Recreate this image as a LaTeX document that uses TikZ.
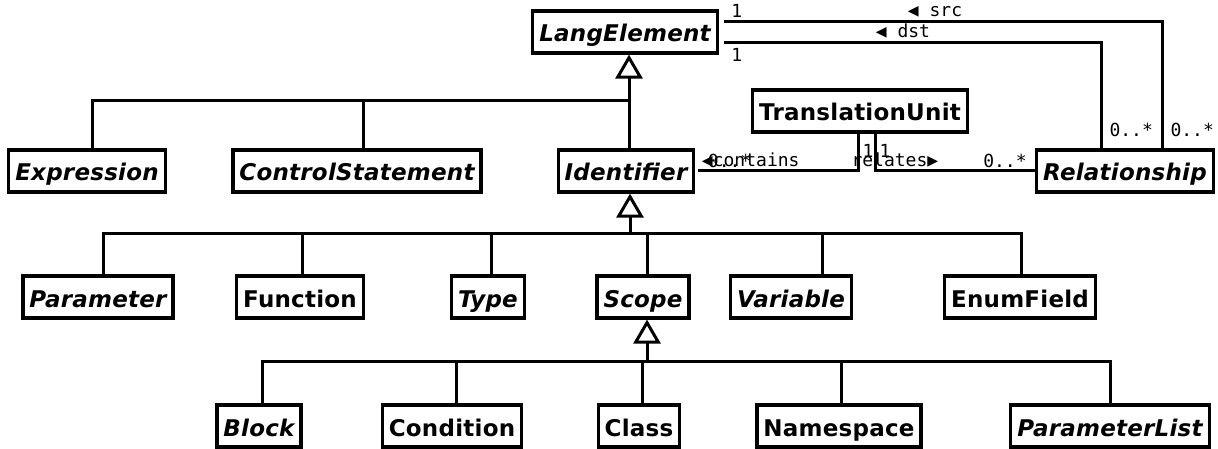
\documentclass[tikz,border=0pt]{standalone}
\usepackage{fontspec}
\setmainfont{DejaVu Sans}
\setmonofont{DejaVu Sans Mono}
\newfontfamily\boxfont[LetterSpace=1]{DejaVu Sans}
\usetikzlibrary{arrows.meta}

\tikzset{
  cls/.style={draw, line width=3.2pt, fill=white, minimum height=42pt,
    inner xsep=6.5pt, text height=20pt, text depth=0pt,
    font=\fontsize{23}{27}\boxfont\bfseries},
  abstr/.style={cls, font=\fontsize{23}{27}\boxfont\bfseries\itshape},
  conn/.style={line width=3pt, line cap=rect},
  gen/.style={line width=3pt, -{Triangle[open, length=24pt, width=27pt]}},
  lbl/.style={font=\fontsize{18}{20}\selectfont\ttfamily, inner sep=0pt},
}

\begin{document}
\begin{tikzpicture}[x=1pt, y=-1pt]
\useasboundingbox (0,0) rectangle (1218,449);

% classes
\node[abstr] (lang) at (625,32) {LangElement};
\node[abstr] (expr) at (87,171) {Expression};
\node[abstr] (ctrl) at (357,171) {ControlStatement};
\node[abstr] (ident) at (626,171) {Identifier};
\node[cls] (tunit) at (860,111) {TranslationUnit};
\node[abstr] (rel) at (1125,171) {Relationship};

\node[abstr] (param) at (98,297) {Parameter};
\node[cls] (func) at (300,297) {Function};
\node[abstr] (type) at (488,297) {Type};
\node[abstr] (scope) at (643,297) {Scope};
\node[abstr] (var) at (791,297) {Variable};
\node[cls] (enumf) at (1020,297) {EnumField};

\node[abstr] (block) at (259,426) {Block};
\node[cls] (cond) at (452,426) {Condition};
\node[cls] (class) at (639,426) {Class};
\node[cls] (nspace) at (839,426) {Namespace};
\node[abstr] (plist) at (1110,426) {ParameterList};

% inheritance from LangElement
\coordinate (j1) at (629,101);
\draw[gen] (j1) -- (j1 |- lang.south);
\draw[conn] (92,101) -- (j1);
\foreach \n/\x in {expr/92, ctrl/363, ident/629}
  \draw[conn] (\x,101) -- (\n.north -| \x,0);

% inheritance from Identifier
\coordinate (j2) at (630,234);
\draw[gen] (j2) -- (j2 |- ident.south);
\draw[conn] (103,234) -- (1021,234);
\foreach \n/\x in {param/103, func/302, type/491, scope/647, var/822, enumf/1021}
  \draw[conn] (\x,234) -- (\n.north -| \x,0);

% inheritance from Scope
\coordinate (j3) at (647,361);
\draw[gen] (j3) -- (j3 |- scope.south);
\draw[conn] (262,361) -- (1110,361);
\foreach \n/\x in {block/262, cond/456, class/642, nspace/841, plist/1110}
  \draw[conn] (\x,361) -- (\n.north -| \x,0);

% associations
\draw[line width=3pt] ([xshift=5pt,yshift=10pt]lang.east) -| (rel.north -| 1162,0)
  node[lbl, pos=0, anchor=south west, xshift=6pt, yshift=3pt] (srcone) {1}
  node[lbl, pos=0.241, anchor=south, yshift=3pt] (srcname) {◀ src}
  node[lbl, pos=1, anchor=south west, xshift=7pt, yshift=10pt] (srcmany) {0..*};
\draw[line width=3pt] ([xshift=5pt,yshift=-11pt]lang.east) -| (rel.north -| 1101,0)
  node[lbl, pos=0, anchor=north west, xshift=6pt, yshift=-4pt] (dstone) {1}
  node[lbl, pos=0.2375, anchor=south, yshift=3pt] (dstname) {◀ dst}
  node[lbl, pos=1, anchor=south west, xshift=7pt, yshift=10pt] (dstmany) {0..*};
\draw[line width=3pt] ([xshift=3pt]ident.east) -| (tunit.south -| 858,0)
  node[lbl, pos=0, anchor=south west, xshift=2pt, yshift=2pt] (contname) {◀contains}
  node[lbl, pos=0, anchor=south west, xshift=8pt, yshift=2pt] (contmany) {0..*}
  node[lbl, pos=1, anchor=north west, xshift=3pt, yshift=-9pt] (contone) {1};
\draw[line width=3pt] (tunit.south -| 875,0) |- (rel.west)
  node[lbl, pos=0, anchor=north west, xshift=3pt, yshift=-9pt] (relone) {1}
  node[lbl, pos=0.5, anchor=south west, xshift=-25pt, yshift=2pt] (relname) {relates▶}
  node[lbl, pos=1, anchor=south east, xshift=-7pt, yshift=2pt] (relmany) {0..*};
\end{tikzpicture}
\end{document}
